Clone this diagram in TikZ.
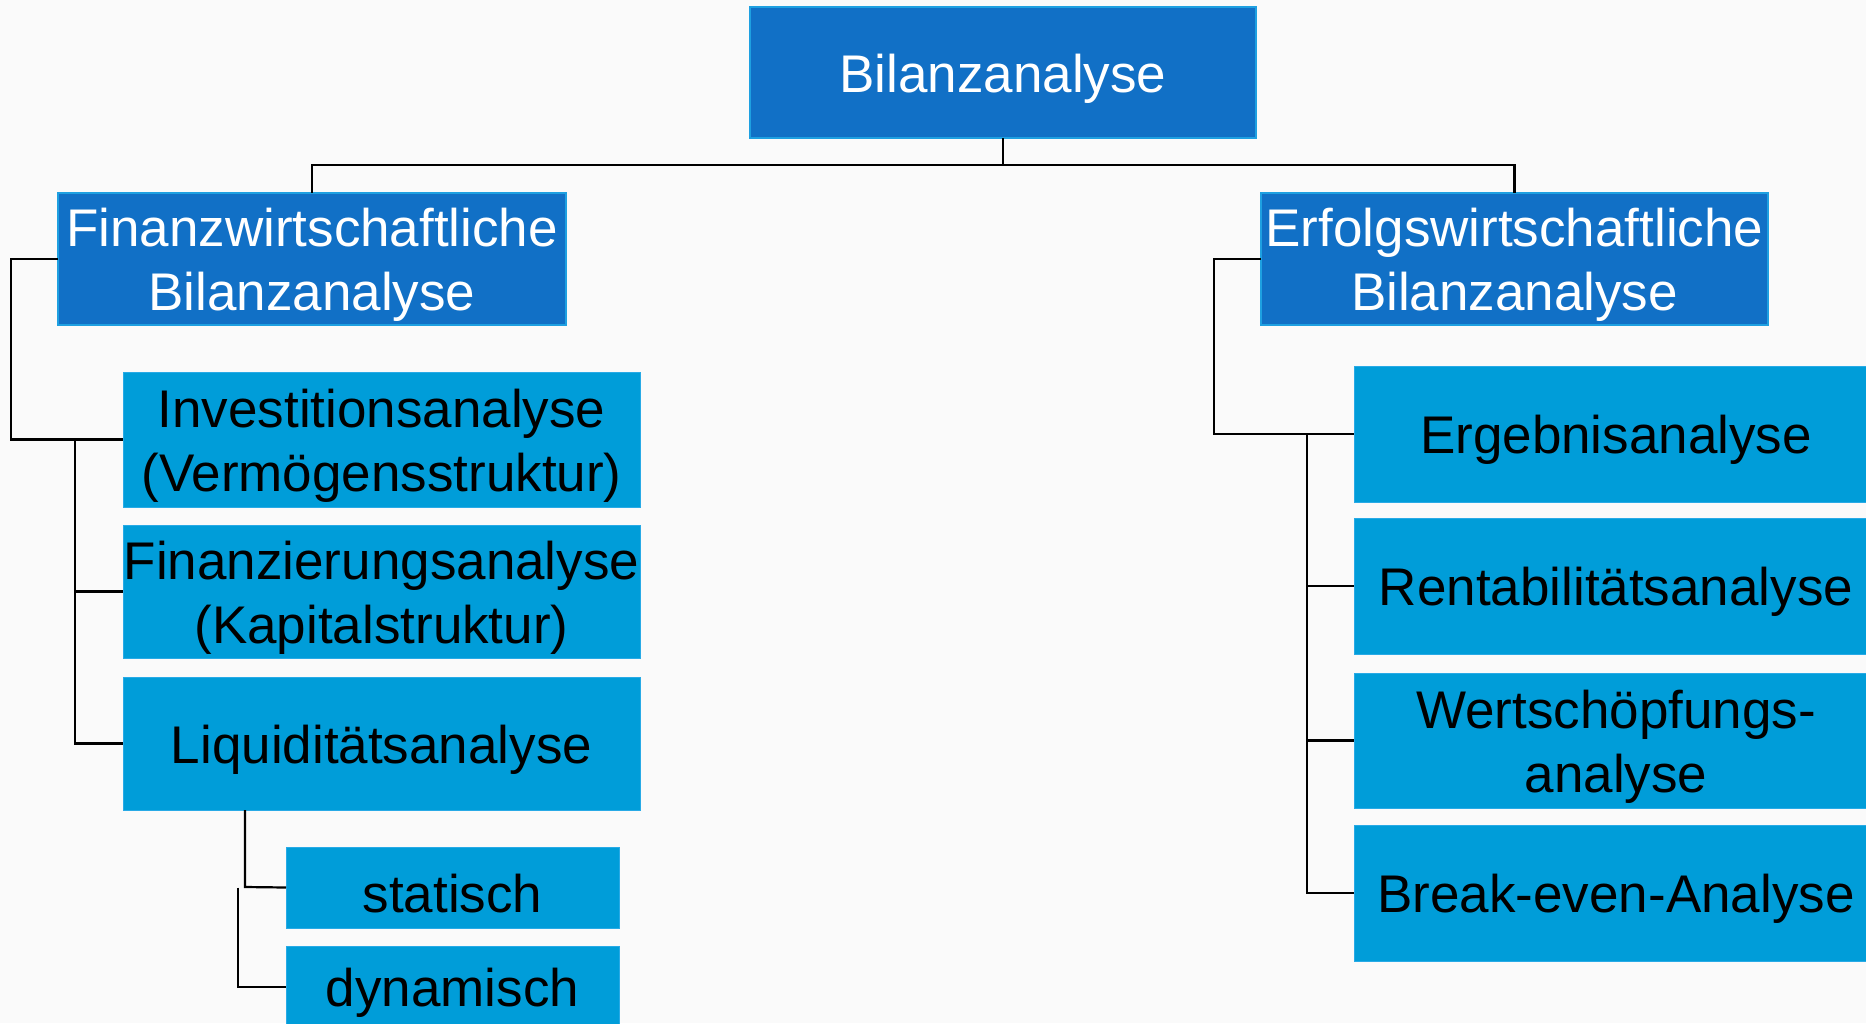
\documentclass[tikz,border=0pt]{standalone}
\usepackage{fontspec}
\setmainfont{Liberation Sans}
\definecolor{bgc}{RGB}{250,250,250}
\definecolor{darkfill}{RGB}{17,112,198}
\definecolor{darkline}{RGB}{30,160,225}
\definecolor{lightfill}{RGB}{0,157,217}
\definecolor{lightline}{RGB}{40,170,230}
\tikzset{
  box/.style={anchor=north west, inner sep=0pt, outer sep=0pt},
  darkbox/.style={box, fill=darkfill, draw=darkline, line width=2pt},
  lightbox/.style={box, fill=lightfill, draw=lightline, line width=1pt},
  txt/.style={inner sep=0pt, align=center, yshift=-6pt,
    font=\fontsize{53}{64}\selectfont},
  wtxt/.style={txt, text=white},
  btxt/.style={txt, text=black},
  conn/.style={draw=black, line width=2.2pt}
}
\begin{document}
\begin{tikzpicture}[x=1pt,y=-1pt]
\useasboundingbox (0,0) rectangle (1866,1023);
\fill[bgc] (0,0) rectangle (1866,1023);
\begin{scope}
\clip (0,0) rectangle (1866,1023);
% boxes
\node[darkbox, minimum width=506pt, minimum height=131pt] (top) at (750,7) {};
\node[darkbox, minimum width=508pt, minimum height=132pt] (fin) at (58,193) {};
\node[darkbox, minimum width=507pt, minimum height=132pt] (erf) at (1261,193) {};
\node[lightbox, minimum width=517pt, minimum height=135pt] (inv) at (123,372) {};
\node[lightbox, minimum width=517pt, minimum height=133pt] (fina) at (123,525) {};
\node[lightbox, minimum width=517pt, minimum height=133pt] (liq) at (123,677) {};
\node[lightbox, minimum width=333pt, minimum height=81pt] (stat) at (286,847) {};
\node[lightbox, minimum width=333pt, minimum height=82pt] (dyn) at (286,946) {};
\node[lightbox, minimum width=520pt, minimum height=136pt] (erg) at (1354,366) {};
\node[lightbox, minimum width=520pt, minimum height=136pt] (ren) at (1354,518) {};
\node[lightbox, minimum width=520pt, minimum height=135pt] (wert) at (1354,673) {};
\node[lightbox, minimum width=520pt, minimum height=136pt] (brk) at (1354,825) {};
% texts
\node[wtxt] (ttop) at (top.center) {Bilanzanalyse};
\node[wtxt] (tfin) at (fin.center) {Finanzwirtschaftliche\\Bilanzanalyse};
\node[wtxt] (terf) at (erf.center) {Erfolgswirtschaftliche\\Bilanzanalyse};
\node[btxt] (tinv) at (inv.center) {Investitionsanalyse\\(Vermögensstruktur)};
\node[btxt] (tfina) at (fina.center) {Finanzierungsanalyse\\(Kapitalstruktur)};
\node[btxt] (tliq) at (liq.center) {Liquiditätsanalyse};
\node[btxt] (tstat) at (stat.center) {statisch};
\node[btxt] (tdyn) at (dyn.center) {dynamisch};
\node[btxt] (terg) at ([xshift=2pt]erg.center) {Ergebnisanalyse};
\node[btxt] (tren) at ([xshift=2pt]ren.center) {Rentabilitätsanalyse};
\node[btxt] (twert) at ([xshift=2pt]wert.center) {Wertschöpfungs-\\analyse};
\node[btxt] (tbrk) at ([xshift=2pt]brk.center) {Break-even-Analyse};
% connectors
\draw[conn] (top.south) -- ++(0,27) coordinate (hub) -| (fin.north);
\draw[conn] (hub) -| (erf.north);
\draw[conn] (fin.west) -- ++(-47,0) |- (inv.west);
\draw[conn] (inv.west) ++(-48,0) |- (fina.west);
\draw[conn] (inv.west) ++(-48,0) |- (liq.west);
\draw[conn] (liq.south west) ++(122,0) -- ++(0,77) -- (stat.west);
\draw[conn] (stat.west) ++(-48,0) |- (dyn.west);
\draw[conn] (erf.west) -- ++(-47,0) |- (erg.west);
\draw[conn] (erg.west) ++(-47,0) |- (ren.west);
\draw[conn] (erg.west) ++(-47,0) |- (wert.west);
\draw[conn] (erg.west) ++(-47,0) |- (brk.west);
\end{scope}
\end{tikzpicture}
\end{document}
